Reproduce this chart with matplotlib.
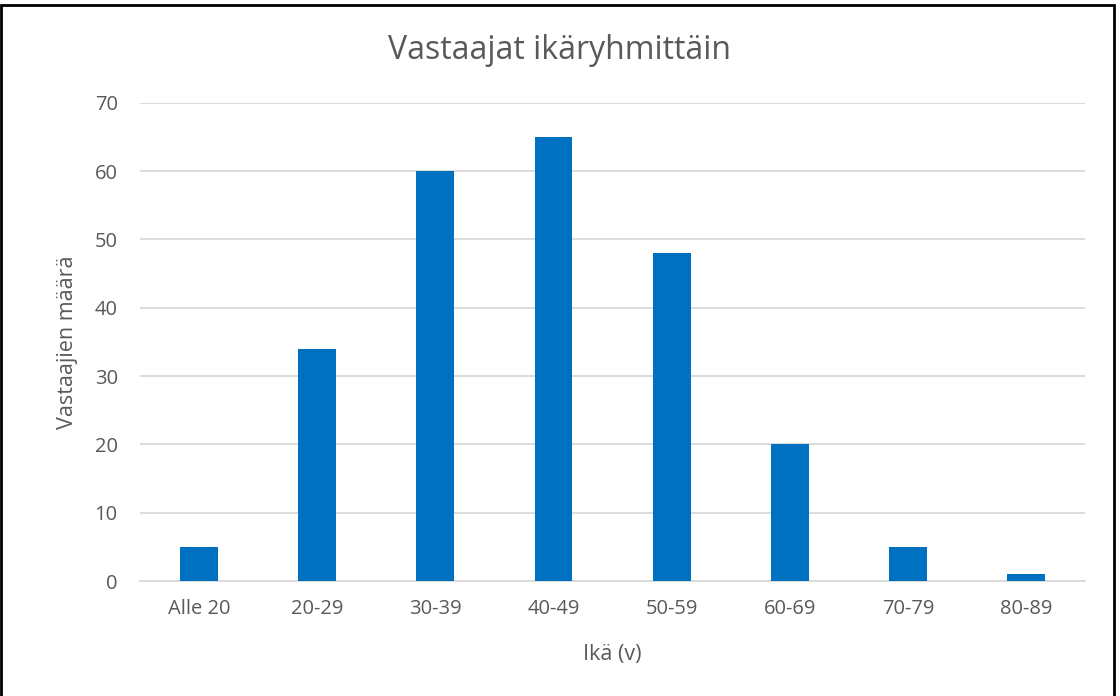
import matplotlib.pyplot as plt
from matplotlib.patches import Rectangle

categories = ["Alle 20", "20-29", "30-39", "40-49", "50-59", "60-69", "70-79", "80-89"]
counts = [5, 34, 60, 65, 48, 20, 5, 1]
yticks = [0, 10, 20, 30, 40, 50, 60, 70]

plt.rcParams['font.family'] = ['Open Sans', 'DejaVu Sans']
text_color = "#595959"

fig = plt.figure(figsize=(11.2, 6.96), dpi=100)
ax = fig.add_axes([0.125, 0.1652, 0.844, 0.687])

ax.bar(range(len(categories)), counts, width=0.32, color="#0070C0", zorder=3)

ax.set_xlim(-0.5, len(categories) - 0.5)
ax.set_ylim(0, 70)
ax.set_yticks(yticks)
ax.set_xticks(range(len(categories)))
ax.set_xticklabels(categories)
ax.grid(axis="y", color="#d9d9d9", linewidth=1.3, zorder=0)
ax.tick_params(length=0, labelsize=14.5, colors=text_color, pad=13)
ax.tick_params(axis="y", pad=16)
for s in ["top", "right", "left"]:
    ax.spines[s].set_visible(False)
ax.spines["bottom"].set_color("#d9d9d9")
ax.spines["bottom"].set_linewidth(1.3)

ax.set_xlabel("Ikä (v)", fontsize=15.5, color=text_color, labelpad=18)
ax.set_ylabel("Vastaajien määrä", fontsize=15.5, color=text_color, labelpad=12)
fig.text(0.5, 0.928, "Vastaajat ikäryhmittäin", ha="center", va="center",
         fontsize=23, color=text_color)

fig.patches.append(Rectangle((0.001, -0.05), 0.994, 1.043, transform=fig.transFigure,
                             fill=False, edgecolor="black", linewidth=2))

fig.savefig("out.png", dpi=100)
